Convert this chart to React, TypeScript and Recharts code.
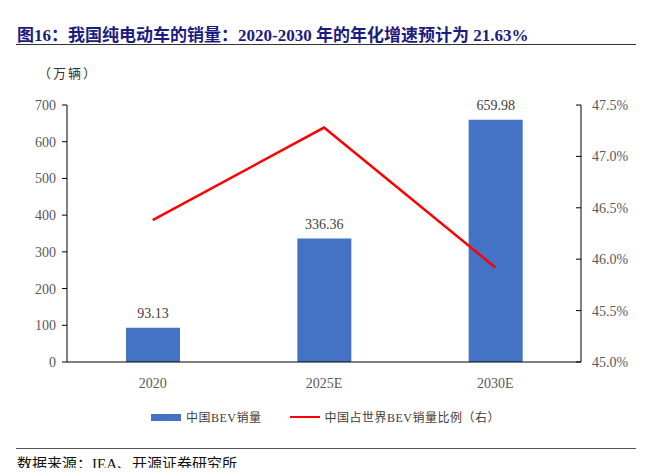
import React from 'react'
import { Bar, ComposedChart, LabelList, Line, XAxis, YAxis } from 'recharts'

const years = ['2020', '2025E', '2030E']
const bevSales = [93.13, 336.36, 659.98]
const worldShare = [0.4638, 0.4728, 0.4592]
const leftTicks = [0, 100, 200, 300, 400, 500, 600, 700]
const rightTicks = [0.45, 0.455, 0.46, 0.465, 0.47, 0.475]

const data = years.map((year, i) => ({
  year,
  sales: bevSales[i],
  share: worldShare[i]
}))

const serif = '"Liberation Serif", "Noto Sans CJK SC", serif'
const tickStyle = { fill: '#595959', fontSize: 14, fontFamily: serif }

export default function App() {
  return (
    <div
      style={{
        position: 'relative',
        width: 654,
        height: 476,
        margin: -8,
        overflow: 'hidden',
        background: '#fff',
        fontFamily: serif
      }}
    >
      <div
        style={{
          position: 'absolute',
          left: 40,
          top: -14,
          fontSize: 15,
          fontWeight: 'bold',
          color: '#222',
          whiteSpace: 'nowrap'
        }}
      >
        2020-2030 年的年化增速为 21.63%
      </div>
      <div
        style={{
          position: 'absolute',
          left: 17,
          top: 21,
          fontSize: 17,
          fontWeight: 'bold',
          color: '#1c1c80',
          whiteSpace: 'nowrap'
        }}
      >
        图16：我国纯电动车的销量：2020-2030 年的年化增速预计为 21.63%
      </div>
      <div
        style={{
          position: 'absolute',
          left: 16,
          top: 44,
          width: 620,
          height: 1,
          background: '#333'
        }}
      />
      <div
        style={{
          position: 'absolute',
          left: 38,
          top: 63,
          fontSize: 13,
          color: '#333',
          letterSpacing: 2,
          fontFamily: '"Noto Sans CJK SC", sans-serif'
        }}
      >
        （万辆）
      </div>

      <div style={{ position: 'absolute', left: 0, top: 0 }}>
        <ComposedChart
          width={654}
          height={400}
          data={data}
          margin={{ top: 105, right: 0, bottom: 8, left: 0 }}
        >
          <XAxis
            dataKey="year"
            height={30}
            tickLine={false}
            axisLine={{ stroke: '#000' }}
            tick={tickStyle}
            tickMargin={10}
          />
          <YAxis
            yAxisId="left"
            width={67}
            domain={[0, 700]}
            ticks={leftTicks}
            interval={0}
            axisLine={{ stroke: '#000' }}
            tickLine={{ stroke: '#000' }}
            tickSize={5}
            tickMargin={6}
            tick={tickStyle}
          />
          <YAxis
            yAxisId="right"
            orientation="right"
            width={73}
            domain={[0.45, 0.475]}
            ticks={rightTicks}
            interval={0}
            axisLine={{ stroke: '#000' }}
            tickLine={{ stroke: '#000' }}
            tickSize={-5}
            tickMargin={16}
            tick={tickStyle}
            tickFormatter={(v: number) => (v * 100).toFixed(1) + '%'}
          />
          <Bar
            yAxisId="left"
            dataKey="sales"
            fill="#4472C4"
            barSize={54}
            isAnimationActive={false}
          >
            <LabelList
              dataKey="sales"
              position="top"
              offset={10}
              style={{ fill: '#404040', fontSize: 14, fontFamily: serif }}
              formatter={(v: number) => v.toFixed(2)}
            />
          </Bar>
          <Line
            yAxisId="right"
            dataKey="share"
            stroke="#FF0000"
            strokeWidth={2.5}
            dot={false}
            activeDot={false}
            isAnimationActive={false}
          />
        </ComposedChart>
      </div>

      <div
        style={{
          position: 'absolute',
          top: 408,
          left: 151,
          display: 'flex',
          alignItems: 'center',
          fontSize: 12,
          color: '#404040',
          fontFamily: serif,
          letterSpacing: 0.5
        }}
      >
        <span style={{ width: 30, height: 7, background: '#4472C4', marginRight: 5 }} />
        <span>中国BEV销量</span>
        <span
          style={{ width: 30, height: 2, background: '#FF0000', marginLeft: 28, marginRight: 5 }}
        />
        <span>中国占世界BEV销量比例（右）</span>
      </div>

      <div
        style={{
          position: 'absolute',
          left: 16,
          top: 448,
          width: 620,
          height: 1,
          background: '#555'
        }}
      />
      <div
        style={{
          position: 'absolute',
          left: 17,
          top: 452,
          fontSize: 15,
          color: '#111',
          whiteSpace: 'nowrap'
        }}
      >
        数据来源：IEA、开源证券研究所
      </div>
    </div>
  )
}
